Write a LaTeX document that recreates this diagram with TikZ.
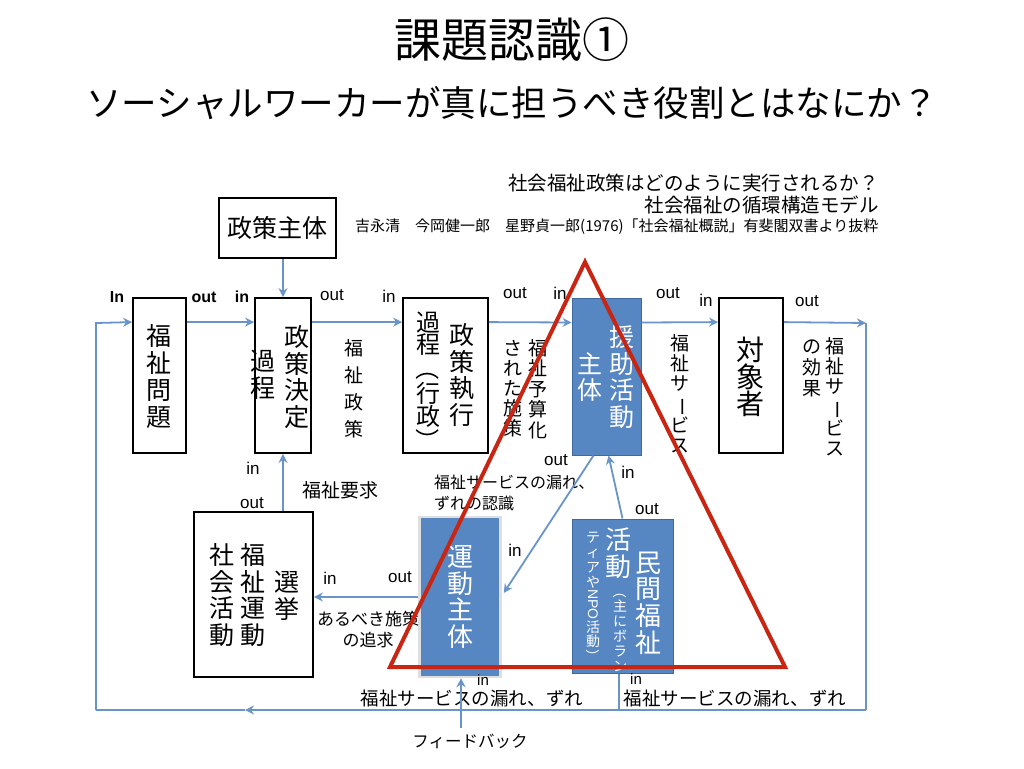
\documentclass[tikz,border=0pt]{standalone}
\usepackage{fontspec}
\usepackage{graphicx}
\setmainfont{Noto Sans CJK JP}
\newfontfamily\vjp{Noto Sans CJK JP}
\newfontfamily\lat{Liberation Sans}
\usetikzlibrary{arrows.meta,calc}
\definecolor{arrowblue}{RGB}{105,148,202}
\definecolor{boxblue}{RGB}{86,135,195}
\definecolor{boxblueline}{RGB}{62,105,160}
\definecolor{trired}{RGB}{200,38,18}
\newcommand\fs[2]{\fontsize{#1}{#2}\selectfont}
\newcommand\vrot[1]{\rotatebox[origin=c]{-90}{#1}}
\begin{document}
\begin{tikzpicture}[x=1pt,y=-1pt,
  box/.style={draw=black, line width=1.8pt, fill=white, inner sep=0},
  bbox/.style={draw=boxblueline, line width=1pt, fill=boxblue, inner sep=0},
  arr/.style={draw=arrowblue, line width=1.8pt, -{Stealth[length=9pt,width=9pt,inset=3pt]}},
  ln/.style={draw=arrowblue, line width=1.8pt},
  vt/.style={align=center, inner sep=0},
  lab/.style={inner sep=0, font=\lat\fs{17}{20}},
  blab/.style={inner sep=0, font=\lat\bfseries\fs{16}{20}},
  jlab/.style={inner sep=0, font=\fs{19}{22}}]
\useasboundingbox[fill=white] (0,0) rectangle (1024,768);

% titles
\node[inner sep=0, font=\fs{47}{52}] (title) at (512,40) {課題認識①};
\node[inner sep=0, font=\fs{35.5}{40}] (sub) at (512,103) {ソーシャルワーカーが真に担うべき役割とはなにか？};
\node[inner sep=0, anchor=east, font=\fs{19.5}{22}] (q1) at (879,183) {社会福祉政策はどのように実行されるか？};
\node[inner sep=0, anchor=east, font=\fs{19.5}{22}] (q2) at (879,205) {社会福祉の循環構造モデル};
\node[inner sep=0, anchor=west, font=\fs{15}{17}] (cite) at (355,227) {吉永清\quad 今岡健一郎\quad 星野貞一郎(1976)「社会福祉概説」有斐閣双書より抜粋};

% boxes
\node[box, minimum width=117pt, minimum height=60pt] (shutai) at (277.5,228) {};
\node[box, minimum width=53pt, minimum height=155pt] (mondai) at (159.5,375.5) {};
\node[box, minimum width=56pt, minimum height=155pt] (kettei) at (283,375.5) {};
\node[box, minimum width=85pt, minimum height=155pt] (shikko) at (445.5,375.5) {};
\node[bbox, minimum width=69pt, minimum height=157pt] (enjo) at (606.5,376.5) {};
\node[box, minimum width=64pt, minimum height=155pt] (taisho) at (751,375.5) {};
\node[box, minimum width=119pt, minimum height=165pt] (undo) at (253.5,594.5) {};
\node[bbox, draw=gray!25, line width=2.5pt, minimum width=81pt, minimum height=160pt] (ushutai) at (460,597) {};
\node[bbox, minimum width=101pt, minimum height=154pt] (minkan) at (622.5,596) {};

% box texts
\node[inner sep=0, font=\fs{25}{28}] (tshutai) at (shutai) {政策主体};
\node[vt, font=\vjp\fs{25}{27}] (tmondai) at (159,377) {福\\祉\\問\\題};
\node[vt, font=\vjp\fs{25}{26.5}] (tkettei1) at (297,377) {政\\策\\決\\定};
\node[vt, font=\vjp\fs{25}{26.5}] (tkettei2) at (263,375) {過\\程};
\node[vt, font=\vjp\fs{25}{26.5}] (tshikko1) at (462,375) {政\\策\\執\\行};
\node[vt, font=\vjp\fs{24}{21.5}] (tshikko2) at (428,382) {過\\程\\\vrot{（}\\行\\政\\\vrot{）}};
\node[vt, font=\vjp\fs{25}{26.5}, text=white] (tenjo1) at (622,377) {援\\助\\活\\動};
\node[vt, font=\vjp\fs{25}{26.5}, text=white] (tenjo2) at (590,377) {主\\体};
\node[vt, font=\vjp\fs{28}{27}] (ttaisho) at (750,377) {対\\象\\者};
\node[vt, font=\vjp\fs{25}{26.7}] (tundo1) at (222,595) {社\\会\\活\\動};
\node[vt, font=\vjp\fs{25}{26.7}] (tundo2) at (253,595) {福\\祉\\運\\動};
\node[vt, font=\vjp\fs{25}{26.7}] (tundo3) at (287,595.5) {選\\挙};
\node[vt, font=\vjp\fs{26}{26.7}, text=white] (tushutai) at (460,597) {運\\動\\主\\体};
\node[vt, font=\vjp\fs{26}{26.7}, text=white] (tminkan1) at (648,603) {民\\間\\福\\祉};
\node[vt, font=\vjp\fs{26}{27}, text=white] (tminkan2) at (618,553) {活\\動};
\node[vt, font=\vjp\fs{14}{14.8}, text=white] (tminkan3) at (620,628) {\vrot{（}\\主\\に\\ボ\\ラ\\ン};
\node[vt, font=\vjp\fs{14}{14.8}, text=white] (tminkan4) at (593,598) {テ\\ィ\\ア\\や\\\vrot{\lat NPO}\\活\\動\\\vrot{）}};

% vertical labels
\node[vt, font=\vjp\fs{19}{27}] (vseisaku) at (354,389) {福\\祉\\政\\策};
\node[vt, font=\vjp\fs{19}{20.5}] (vyosan) at (538,389) {福\\祉\\予\\算\\化};
\node[vt, font=\vjp\fs{19}{20}] (vsaku) at (513,389) {さ\\れ\\た\\施\\策};
\node[vt, font=\vjp\fs{19}{20}] (vservice) at (680,394) {福\\祉\\サ\\\vrot{ー}\\ビ\\ス};
\node[vt, font=\vjp\fs{19}{20}] (vkoka1) at (835,397) {福\\祉\\サ\\\vrot{ー}\\ビ\\ス};
\node[vt, font=\vjp\fs{19}{21}] (vkoka2) at (812,368) {の\\効\\果};

% in/out labels
\node[blab] (l1) at (117,297) {In};
\node[blab] (l2) at (204,297) {out};
\node[blab] (l3) at (242,297) {in};
\node[lab] (l4) at (332,295) {out};
\node[lab] (l5) at (389,296) {in};
\node[lab] (l6) at (515,293) {out};
\node[lab] (l7) at (560,293) {in};
\node[lab] (l8) at (668,293) {out};
\node[lab] (l9) at (706,300) {in};
\node[lab] (l10) at (807,301) {out};
\node[lab] (l11) at (253,468) {in};
\node[lab] (l12) at (252,503) {out};
\node[lab] (l13) at (556,460) {out};
\node[lab] (l14) at (515,550) {in};
\node[lab] (l15) at (628,472) {in};
\node[lab] (l16) at (647,509) {out};
\node[lab] (l17) at (330,578) {in};
\node[lab] (l18) at (400,577) {out};
\node[lab, font=\lat\fs{15}{18}] (l19) at (483,680) {in};
\node[lab, font=\lat\fs{15}{18}] (l20) at (636,679) {in};

% japanese labels
\node[jlab] (yokyu) at (340,490) {福祉要求};
\node[inner sep=0, anchor=north west, align=left, font=\fs{16}{21}] (ninshiki) at (434,475) {福祉サービスの漏れ、\\ずれの認識};
\node[inner sep=0, align=center, font=\fs{17}{21}] (tsuikyu) at (368,630) {あるべき施策\\の追求};
\node[inner sep=0, font=\fs{18.5}{22}] (more1) at (472,698) {福祉サービスの漏れ、ずれ};
\node[inner sep=0, font=\fs{18.5}{22}] (more2) at (735,698) {福祉サービスの漏れ、ずれ};
\node[inner sep=0, font=\fs{16.5}{20}] (fbtext) at (470,741) {フィードバック};

% loop coordinates
\coordinate (tr) at (866,323);
\coordinate (br) at (866,710);
\coordinate (bm) at (245,710);
\coordinate (bl) at (96,710);
\coordinate (tl) at (96,323);
\coordinate (fbs) at (461,728);
\coordinate (mk) at (619,710);

% connectors
\draw[arr] (bl) -- (tl) -- ($(mondai.north west)+(0,25)$);
\draw[arr] ($(mondai.north east)+(0,25)$) -- ($(kettei.north west)+(0,25)$);
\draw[arr] ($(kettei.north east)+(0,25)$) -- ($(shikko.north west)+(0,25)$);
\draw[arr] ($(shikko.north east)+(0,25)$) -- ($(enjo.north west)+(0,25)$);
\draw[arr] ($(enjo.north east)+(0,25)$) -- ($(taisho.north west)+(0,25)$);
\draw[arr] ($(taisho.north east)+(0,25)$) -- (tr);
\draw[ln] (tr) -- (br);
\draw[arr] (br) -- (bm);
\draw[ln] (bm) -- (bl);
\draw[arr] (kettei.north |- shutai.south) -- (kettei.north);
\draw[arr] (kettei.south |- undo.north) -- (kettei.south);
\draw[arr] (ushutai.west) -- (undo.east |- ushutai.west);
\draw[arr] ($(enjo.south)+(-13,0)$) -- ($(ushutai.east)+(2,-4)$);
\draw[arr] (minkan.north) -- ($(enjo.south)+(2,0)$);
\draw[arr] (fbs) -- (fbs |- ushutai.south);
\draw[ln] (mk) -- (mk |- minkan.south);

% red triangle
\coordinate (ta) at (585,262);
\coordinate (tb) at (390,667);
\coordinate (tc) at (785,667);
\draw[trired, line width=4pt, line join=miter] (ta) -- (tb) -- (tc) -- cycle;
\end{tikzpicture}
\end{document}
